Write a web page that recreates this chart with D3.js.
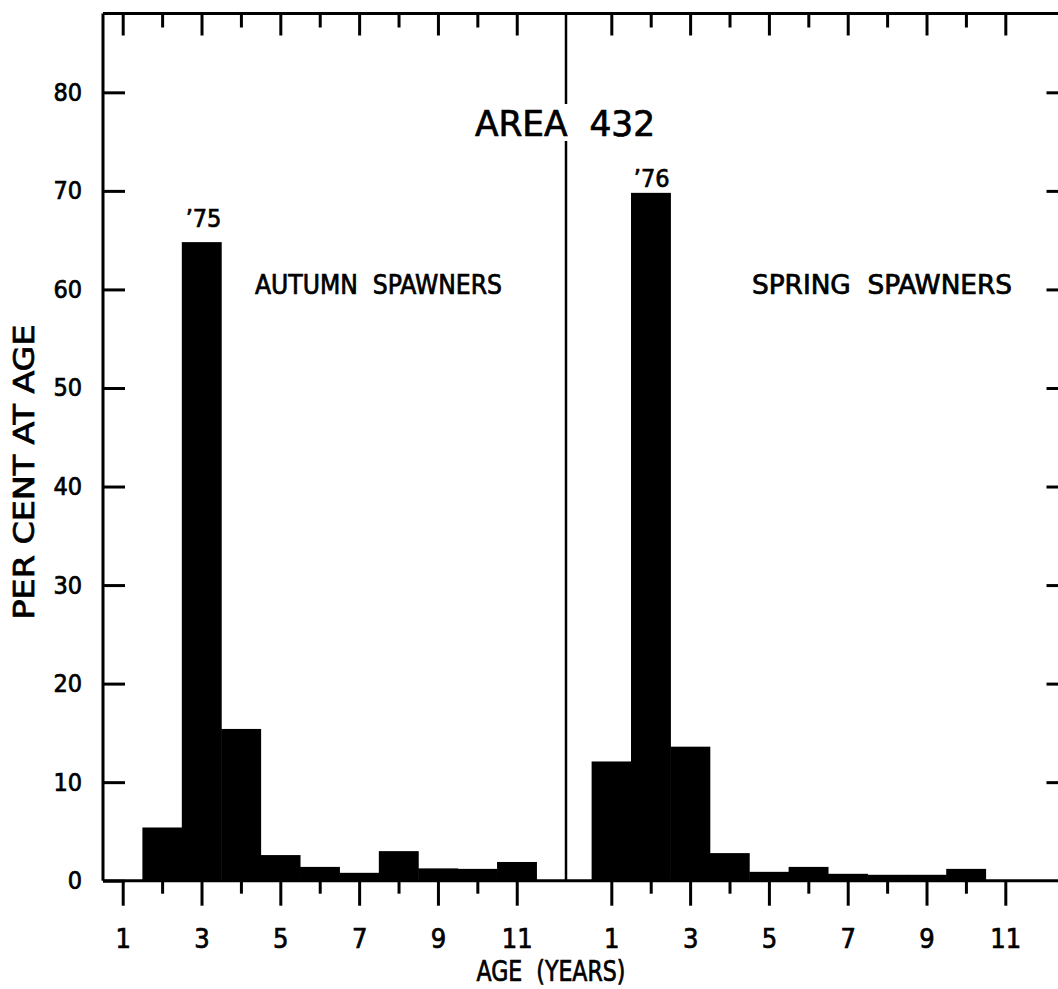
<!DOCTYPE html>
<html>
<head>
<meta charset="utf-8">
<script src="https://cdn.jsdelivr.net/npm/d3@7"></script>
<style>
    body { margin: 0; background: #fff; }
    svg { display: block; }
    text { font-family: "DejaVu Sans Condensed", "DejaVu Sans", sans-serif; font-stretch: condensed; fill: #000; stroke: #000; stroke-width: 0.7px; white-space: pre; }
    .axis path { display: none; }
    .axis line { stroke: #000; stroke-width: 3; }
    .axis text { font-size: 25px; }
</style>
</head>
<body>
<div class="visHolder"></div>
<script>
// ages shown on the x axis of each panel
var ages = [1, 2, 3, 4, 5, 6, 7, 8, 9, 10, 11];
var autumnPct = [0, 5.4, 64.8, 15.4, 2.6, 1.4, 0.8, 3.0, 1.25, 1.2, 1.9];
var springPct = [12.1, 69.8, 13.6, 2.8, 0.9, 1.4, 0.7, 0.6, 0.6, 1.2, 0];
var majorAges = [1, 3, 5, 7, 9, 11];
var minorAges = [2, 4, 6, 8, 10];
var yTicks = [0, 10, 20, 30, 40, 50, 60, 70, 80];

var width = 1058,
    height = 989;

var svg = d3
    .select('.visHolder')
    .append('svg')
    .attr('width', width)
    .attr('height', height);

var yScale = d3.scaleLinear().domain([0, 88]).range([880.7, 13.5]);
var xLeft = d3.scaleLinear().domain([0.5, 12.25]).range([103, 566]);
var xRight = d3.scaleLinear().domain([-0.15, 12.35]).range([566, 1058.5]);

var yTop = yScale(88),
    yBase = yScale(0);

function drawBars(scale, values) {
    svg.append('g')
        .selectAll('rect')
        .data(values)
        .enter()
        .append('rect')
        .attr('x', function (d, i) {
            return scale(ages[i] - 0.5);
        })
        .attr('width', function (d, i) {
            return scale(ages[i] + 0.5) - scale(ages[i] - 0.5) + 0.5;
        })
        .attr('y', function (d) {
            return yScale(d);
        })
        .attr('height', function (d) {
            return yBase - yScale(d);
        })
        .attr('fill', '#000');
}

drawBars(xLeft, autumnPct);
drawBars(xRight, springPct);

function drawXTicks(scale) {
    // top edge, ticks pointing into the plot
    svg.append('g')
        .attr('class', 'axis')
        .attr('transform', 'translate(0,' + yTop + ')')
        .call(d3.axisBottom(scale).tickValues(majorAges).tickSize(22).tickFormat(''));
    svg.append('g')
        .attr('class', 'axis')
        .attr('transform', 'translate(0,' + yTop + ')')
        .call(d3.axisBottom(scale).tickValues(minorAges).tickSize(14).tickFormat(''));

    // bottom edge, ticks hanging below
    svg.append('g')
        .attr('class', 'axis')
        .attr('transform', 'translate(0,' + yBase + ')')
        .call(d3.axisBottom(scale).tickValues(majorAges).tickSize(25).tickPadding(23))
        .selectAll('text')
        .style('font-size', '27px');
    svg.append('g')
        .attr('class', 'axis')
        .attr('transform', 'translate(0,' + yBase + ')')
        .call(d3.axisBottom(scale).tickValues(minorAges).tickSize(13).tickFormat(''));
}

drawXTicks(xLeft);
drawXTicks(xRight);

// y axis on the left, ticks pointing inward
svg.append('g')
    .attr('class', 'axis')
    .attr('transform', 'translate(' + xLeft(0.5) + ',0)')
    .call(d3.axisLeft(yScale).tickValues(yTicks).tickSize(-22).tickPadding(21));

// ticks on the right edge
svg.append('g')
    .attr('class', 'axis')
    .attr('transform', 'translate(' + xRight(12.35) + ',0)')
    .call(d3.axisRight(yScale).tickValues(yTicks.slice(1)).tickSize(-12).tickFormat(''));

// frame
var frame = svg.append('g')
    .attr('stroke', '#000')
    .attr('stroke-width', 3)
    .attr('fill', 'none');

frame.append('line')
    .attr('x1', xLeft(0.5)).attr('x2', xRight(12.35))
    .attr('y1', yTop).attr('y2', yTop);
frame.append('line')
    .attr('x1', xLeft(0.5)).attr('x2', xRight(12.35))
    .attr('y1', yBase).attr('y2', yBase);
frame.append('line')
    .attr('x1', xLeft(0.5)).attr('x2', xLeft(0.5))
    .attr('y1', yTop).attr('y2', yBase);

// divider between the two panels, broken by the title
frame.append('line')
    .attr('stroke-width', 2.5)
    .attr('x1', xLeft(12.25)).attr('x2', xLeft(12.25))
    .attr('y1', yTop).attr('y2', 104);
frame.append('line')
    .attr('stroke-width', 2.5)
    .attr('x1', xLeft(12.25)).attr('x2', xLeft(12.25))
    .attr('y1', 141).attr('y2', yBase);

// labels
svg.append('text')
    .attr('x', 475)
    .attr('y', 136)
    .attr('textLength', 180)
    .attr('lengthAdjust', 'spacingAndGlyphs')
    .style('font-size', '36px')
    .text('AREA  432');

svg.append('text')
    .attr('x', xLeft(3) + 2)
    .attr('y', yScale(autumnPct[2]) - 15)
    .attr('text-anchor', 'middle')
    .style('font-size', '25px')
    .text('\u201975');

svg.append('text')
    .attr('x', xRight(2) + 1)
    .attr('y', yScale(springPct[1]) - 6)
    .attr('text-anchor', 'middle')
    .style('font-size', '25px')
    .text('\u201976');

svg.append('text')
    .attr('x', 255)
    .attr('y', 294)
    .attr('textLength', 247)
    .attr('lengthAdjust', 'spacingAndGlyphs')
    .style('font-size', '26px')
    .text('AUTUMN  SPAWNERS');

svg.append('text')
    .attr('x', 752)
    .attr('y', 294)
    .attr('textLength', 260)
    .attr('lengthAdjust', 'spacingAndGlyphs')
    .style('font-size', '26px')
    .text('SPRING  SPAWNERS');

svg.append('text')
    .attr('transform', 'translate(34,472) rotate(-90)')
    .attr('text-anchor', 'middle')
    .attr('textLength', 295)
    .attr('lengthAdjust', 'spacingAndGlyphs')
    .style('font-size', '28px')
    .text('PER CENT AT AGE');

svg.append('text')
    .attr('x', 551)
    .attr('y', 981)
    .attr('text-anchor', 'middle')
    .attr('textLength', 149)
    .attr('lengthAdjust', 'spacingAndGlyphs')
    .style('font-size', '28px')
    .text('AGE  (YEARS)');
</script>
</body>
</html>
